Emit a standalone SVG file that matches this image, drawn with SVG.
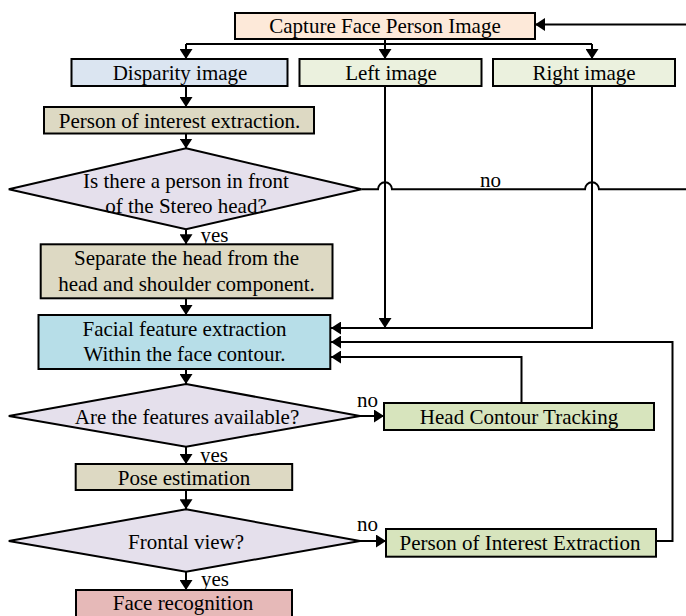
<svg xmlns="http://www.w3.org/2000/svg" width="686" height="616" viewBox="0 0 686 616">
  <defs>
    <marker id="arrow" markerUnits="userSpaceOnUse" markerWidth="12" markerHeight="13" refX="10" refY="6.5" orient="auto">
      <path d="M0,0 L10,6.5 L0,13 z" fill="#000"/>
    </marker>
    <style>
      .box { stroke: #000; stroke-width: 2; }
      .dec { fill: #e5e0ec; stroke: #000; stroke-width: 2; }
      .lbl { font-family: "Liberation Serif", "Times New Roman", serif; font-size: 21px; fill: #000; text-anchor: middle; }
      .tag { font-family: "Liberation Serif", "Times New Roman", serif; font-size: 21px; fill: #000; }
      .conn { fill: none; stroke: #000; stroke-width: 2; }
      .arr { marker-end: url(#arrow); }
    </style>
  </defs>
  <rect width="686" height="616" fill="#fff"/>

  <!-- connectors -->
  <g id="connectors">
    <!-- loop back into capture from the right edge -->
    <path class="conn arr" d="M686,24.5 H535"/>
    <!-- split from capture to the three images -->
    <path class="conn" d="M385,39 V44 M186,44 H592"/>
    <path class="conn arr" d="M186,44 V59"/>
    <path class="conn arr" d="M385,44 V59"/>
    <path class="conn arr" d="M592,44 V59"/>
    <!-- disparity to person of interest extraction -->
    <path class="conn arr" d="M186,86 V107"/>
    <!-- person of interest to decision 1 -->
    <path class="conn arr" d="M186,133.5 V148.5"/>
    <!-- decision 1: no branch with line hops -->
    <path class="conn" d="M361.5,189.3 H378 A7,7 0 0 1 392,189.3 H585 A7,7 0 0 1 599,189.3 H686"/>
    <!-- decision 1: yes branch -->
    <path class="conn arr" d="M186,229.3 V244.3"/>
    <!-- separate head to facial feature extraction -->
    <path class="conn arr" d="M186,298.3 V315"/>
    <!-- left image down to the right-image feed -->
    <path class="conn arr" d="M385,86 V328"/>
    <!-- right image into facial feature extraction -->
    <path class="conn arr" d="M592,86 V328 H331"/>
    <!-- person of interest extraction loop -->
    <path class="conn arr" d="M656,541 H672.5 V342 H331"/>
    <!-- head contour tracking loop -->
    <path class="conn arr" d="M521.5,403 V357 H331"/>
    <!-- facial feature to decision 2 -->
    <path class="conn arr" d="M186,369 V384"/>
    <!-- decision 2 no -->
    <path class="conn arr" d="M360,416 H384"/>
    <!-- decision 2 yes -->
    <path class="conn arr" d="M186,446.7 V464"/>
    <!-- pose to decision 3 -->
    <path class="conn arr" d="M186,490 V509.3"/>
    <!-- decision 3 no -->
    <path class="conn arr" d="M360,541 H386"/>
    <!-- decision 3 yes -->
    <path class="conn arr" d="M186,571.7 V590"/>

    <text class="tag" x="480" y="187">no</text>
    <text class="tag" x="200.5" y="241.5">yes</text>
    <text class="tag" x="357" y="407">no</text>
    <text class="tag" x="200" y="461.5">yes</text>
    <text class="tag" x="357" y="531">no</text>
    <text class="tag" x="201" y="586">yes</text>
  </g>

  <g id="capture">
    <rect class="box" x="235" y="13" width="300" height="26" fill="#fde9d9"/>
    <text class="lbl" x="385" y="33">Capture Face Person Image</text>
  </g>

  <g id="disparity">
    <rect class="box" x="71.5" y="59" width="216" height="27" fill="#dbe5f1"/>
    <text class="lbl" x="180" y="80">Disparity image</text>
  </g>

  <g id="left-image">
    <rect class="box" x="299.5" y="59" width="182" height="27" fill="#ebf1de"/>
    <text class="lbl" x="391" y="80">Left image</text>
  </g>

  <g id="right-image">
    <rect class="box" x="493" y="59" width="182" height="27" fill="#ebf1de"/>
    <text class="lbl" x="584" y="80">Right image</text>
  </g>

  <g id="poi-extraction">
    <rect class="box" x="44" y="107" width="270" height="26.5" fill="#ddd9c3"/>
    <text class="lbl" x="179.5" y="127.5">Person of interest extraction.</text>
  </g>

  <g id="person-decision">
    <polygon class="dec" points="186,148.3 361.5,189.3 186,229.3 8.75,189.3"/>
    <text class="lbl" x="186" y="187.5">Is there a person in front</text>
    <text class="lbl" x="186" y="212.5">of the Stereo head?</text>
  </g>

  <g id="separate-head">
    <rect class="box" x="40.7" y="244.3" width="291.8" height="54" fill="#ddd9c3"/>
    <text class="lbl" x="186.5" y="265">Separate the head from the</text>
    <text class="lbl" x="186.5" y="290.5">head and shoulder component.</text>
  </g>

  <g id="facial-features">
    <rect class="box" x="38.5" y="315" width="291.8" height="54" fill="#b7dee8"/>
    <text class="lbl" x="184.5" y="336">Facial feature extraction</text>
    <text class="lbl" x="184.5" y="361">Within the face contour.</text>
  </g>

  <g id="features-decision">
    <polygon class="dec" points="186,384 360,416 186,446.7 8.75,416"/>
    <text class="lbl" x="187" y="423.5">Are the features available?</text>
  </g>

  <g id="head-contour">
    <rect class="box" x="384" y="403" width="270" height="27" fill="#d7e4bd"/>
    <text class="lbl" x="519" y="424">Head Contour Tracking</text>
  </g>

  <g id="pose">
    <rect class="box" x="75.7" y="464" width="216.5" height="26" fill="#ddd9c3"/>
    <text class="lbl" x="184" y="484.5">Pose estimation</text>
  </g>

  <g id="frontal-decision">
    <polygon class="dec" points="186,509.3 360,541 186,571.7 8.75,541"/>
    <text class="lbl" x="186" y="549">Frontal view?</text>
  </g>

  <g id="poi-extraction-2">
    <rect class="box" x="386" y="529" width="270" height="27.7" fill="#d7e4bd"/>
    <text class="lbl" x="520" y="549.5">Person of Interest Extraction</text>
  </g>

  <g id="face-recognition">
    <rect class="box" x="76" y="590" width="216" height="30" fill="#e6b9b8"/>
    <text class="lbl" x="183" y="609.5">Face recognition</text>
  </g>
</svg>
